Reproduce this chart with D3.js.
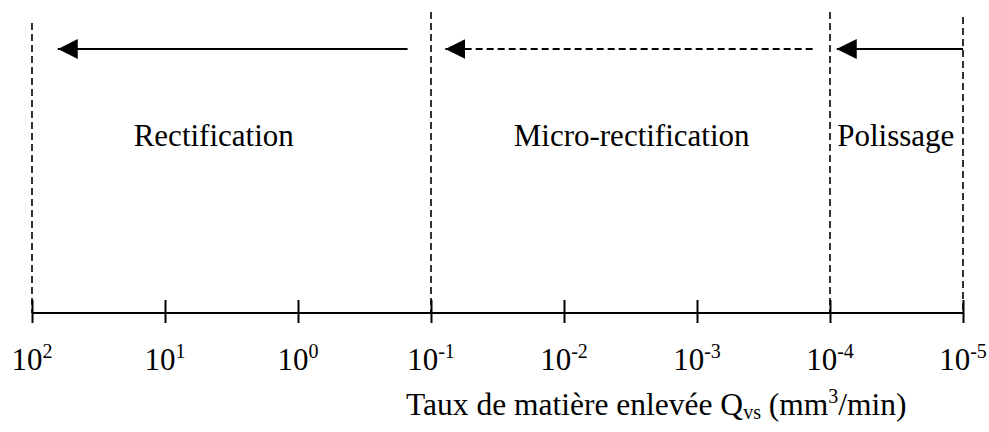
<!DOCTYPE html>
<html lang="fr">
<head>
	<meta charset="UTF-8">
	<title>Taux de matière enlevée</title>
	<script src="https://cdn.jsdelivr.net/npm/d3@7"></script>
	<style>
		*{
			margin: 0px;
			box-sizing: border-box;
		}
		html,body{
			width: 989px;
			height: 432px;
			overflow: hidden;
			background: #fff;
		}
		svg text{
			font-family: "Liberation Serif", "Times New Roman", serif;
			font-size: 31px;
			fill: #000;
		}
		.axis path, .axis line{
			stroke: #000;
			stroke-width: 2;
		}
		.bound{
			stroke: #000;
			stroke-width: 1.6;
			stroke-dasharray: 7,4;
		}
		.arrow{
			stroke: #000;
			stroke-width: 2;
			fill: none;
		}
	</style>
</head>
<body>
	<svg id="svg"></svg>
	<script>
		// tick values (mm3/min) and their exponents
		var tickValues = [1e2, 1e1, 1e0, 1e-1, 1e-2, 1e-3, 1e-4, 1e-5];
		var tickExponents = ["2", "1", "0", "-1", "-2", "-3", "-4", "-5"];

		// domain boundaries (dashed verticals)
		var boundaries = [1e2, 1e-1, 1e-4, 1e-5];
		var boundaryTop = [23, 12, 12, 17];

		// domains : name, label position, arrow from -> to, dashed arrow?
		var domainNames = ["Rectification", "Micro-rectification", "Polissage"];
		var labelAt = [4.3, 0.0031, 3.2e-5];
		var arrowFrom = [0.15, 1.35e-4, 1e-5];
		var arrowTo = [64, 0.078, 8.9e-5];
		var arrowDashed = [false, true, false];

		var w = 989, h = 432,
			axisY = 313,
			arrowY = 49,
			svg = d3.select("#svg").attr("width", w).attr("height", h);

		var x = d3.scaleLog()
			.domain([1e2, 1e-5])
			.range([32, 963]);

		// dashed boundary lines
		svg.append("g").selectAll("line")
			.data(boundaries)
			.enter().append("line")
			.attr("class", "bound")
			.attr("x1", function(d) { return x(d); })
			.attr("x2", function(d) { return x(d); })
			.attr("y1", function(d, i) { return boundaryTop[i]; })
			.attr("y2", axisY);

		// axis
		var g = svg.append("g")
			.attr("class", "axis")
			.attr("transform", "translate(0," + axisY + ")")
			.call(d3.axisBottom(x)
				.tickValues(tickValues)
				.tickSizeInner(10)
				.tickSizeOuter(0)
				.tickFormat(""));
		g.selectAll(".tick line").attr("y1", -13);
		g.select(".domain").attr("d", "M" + x(1e2) + ",0H" + x(1e-5));

		// tick labels 10^n
		var lab = svg.append("g").selectAll("text")
			.data(tickValues)
			.enter().append("text")
			.attr("x", function(d) { return x(d); })
			.attr("y", 370)
			.attr("text-anchor", "middle");
		lab.append("tspan").text("10");
		lab.append("tspan")
			.attr("dy", -12)
			.style("font-size", "20px")
			.text(function(d, i) { return tickExponents[i]; });

		// axis title
		var title = svg.append("text")
			.attr("x", 406)
			.attr("y", 415)
			.style("font-size", "31.5px");
		title.append("tspan").text("Taux de matière enlevée Q");
		title.append("tspan").attr("dy", 4).style("font-size", "20px").text("vs");
		title.append("tspan").attr("dy", -4).text(" (mm");
		title.append("tspan").attr("dy", -12).style("font-size", "20px").text("3");
		title.append("tspan").attr("dy", 12).text("/min)");

		// arrowhead
		svg.append("defs").append("marker")
			.attr("id", "head")
			.attr("viewBox", "0 0 20 20")
			.attr("refX", 20)
			.attr("refY", 10)
			.attr("markerWidth", 20)
			.attr("markerHeight", 20)
			.attr("markerUnits", "userSpaceOnUse")
			.attr("orient", "auto")
			.append("path")
			.attr("d", "M0,0L20,10L0,20Z")
			.attr("fill", "#000");

		svg.append("g").selectAll("line")
			.data(domainNames)
			.enter().append("line")
			.attr("class", "arrow")
			.attr("x1", function(d, i) { return x(arrowFrom[i]); })
			.attr("x2", function(d, i) { return x(arrowTo[i]); })
			.attr("y1", arrowY)
			.attr("y2", arrowY)
			.attr("stroke-dasharray", function(d, i) { return arrowDashed[i] ? "7,4" : null; })
			.attr("marker-end", "url(#head)");

		// domain labels
		svg.append("g").selectAll("text")
			.data(domainNames)
			.enter().append("text")
			.attr("x", function(d, i) { return x(labelAt[i]); })
			.attr("y", 146)
			.attr("text-anchor", "middle")
			.text(function(d) { return d; });
	</script>
</body>
</html>
